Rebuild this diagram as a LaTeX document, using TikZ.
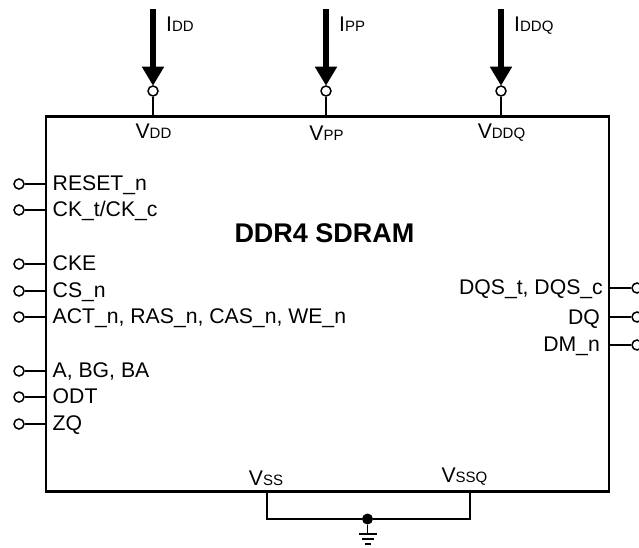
\documentclass[tikz,border=0pt]{standalone}
\usepackage{fontspec}
\setmainfont{Liberation Sans}
\usetikzlibrary{arrows.meta}
\newcommand{\bigsize}{\fontsize{21.2}{23}\selectfont}
\newcommand{\subsize}{\fontsize{15}{17}\selectfont}
\tikzset{
    pin/.style={circle, draw, line width=1.5pt, fill=white, inner sep=0pt, minimum size=10pt},
    pinlabel/.style={inner sep=0pt, font=\bigsize, anchor=base west},
    powerlabel/.style={inner sep=0pt, font=\bigsize, anchor=base},
    wire/.style={line width=1.5pt},
    current/.style={line width=6pt, -{Triangle[length=19pt,width=21pt]}}
}

\begin{document}
\begin{tikzpicture}[x=1pt, y=-1pt]
        \useasboundingbox (0,0) rectangle (639,548);
        \node[draw, line width=2.6pt, minimum width=563pt, minimum height=375pt, inner sep=0pt] (chip) at (327.5,304) {};
        \node[font=\bfseries\fontsize{27}{29}\selectfont] (title) at (324.5,233) {DDR4 SDRAM};
        % left side
        \foreach \name/\y/\txt in {reset/184/RESET\_n, ck/210/{CK\_t/CK\_c}, cke/264/CKE, cs/291/CS\_n,
                act/317/{ACT\_n, RAS\_n, CAS\_n, WE\_n}, addr/371/{A, BG, BA}, odt/397/ODT, zq/424/ZQ} {
            \node[pin] (\name) at (19,\y) {};
            \draw[wire] (\name) -- (\name -| chip.west);
            \node[pinlabel] (\name txt) at (52.5,\y+6.5) {\txt};
        }
        % right side
        \foreach \name/\y/\ly/\lx/\txt in {dqs/288/294/603/{DQS\_t, DQS\_c}, dq/317/324/600/DQ, dm/345/351/600/DM\_n} {
            \node[pin] (\name) at (637,\y) {};
            \draw[wire] (\name) -- (\name -| chip.east);
            \node[pinlabel, anchor=base east] (\name txt) at (\lx,\ly) {\txt};
        }
        % supplies
        \foreach \name/\x/\cur/\ly in {vdd/153/DD/139, vpp/326/PP/141, vddq/501/DDQ/139} {
            \node[pin] (\name) at (\x,91) {};
            \draw[wire] (\name) -- (\name |- chip.north);
            \coordinate (\name top) at (\x,9.5);
            \draw[current] (\name top) -- ([yshift=-0.5pt]\name.north);
            \node[pinlabel] (\name cur) at (\x+13,32) {I{\subsize\cur}};
            \node[powerlabel] (\name txt) at (\x+0.5,\ly) {V{\subsize\cur}};
        }
        % ground
        \coordinate (vss) at (267,491);
        \coordinate (vssq) at (470,491);
        \node[circle, fill, inner sep=0pt, minimum size=11pt] (gnd) at (367.5,519) {};
        \coordinate (gndbar) at (367.5,534);
        \draw[wire] (vss) |- (gnd);
        \draw[wire] (vssq) |- (gnd);
        \draw[wire] (gnd) -- (gndbar);
        \draw[wire] (gndbar) ++(-9,0) -- ++(18,0);
        \draw[wire] (gndbar) ++(-6,5) -- ++(12,0);
        \draw[wire] (gndbar) ++(-3,10) -- ++(6,0);
        \node[powerlabel] (vsstxt) at (266,485) {V{\subsize SS}};
        \node[powerlabel] (vssqtxt) at (464.5,482) {V{\subsize SSQ}};
    \end{tikzpicture}
\end{document}
